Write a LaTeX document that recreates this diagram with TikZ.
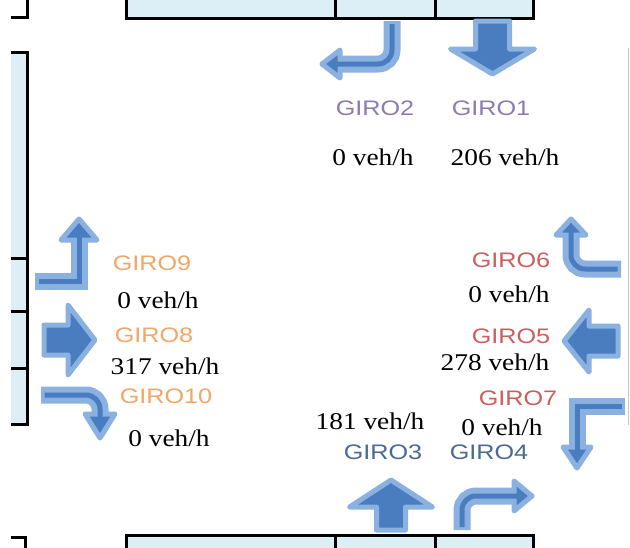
\documentclass[tikz,border=0pt]{standalone}
\usepackage{fontspec}
\newfontfamily\girofont[FakeStretch=1.2]{Liberation Sans}
\newfontfamily\flowfont[FakeStretch=1.14]{Liberation Serif}
\definecolor{alight}{HTML}{8AB1E0}
\definecolor{adark}{HTML}{4A7DC0}
\definecolor{roadfill}{HTML}{DDEFF6}
\definecolor{cpurple}{HTML}{8C7BAE}
\definecolor{corange}{HTML}{F2A766}
\definecolor{cred}{HTML}{C95F5F}
\definecolor{cblue}{HTML}{4A6A93}
\tikzset{
  giro/.style={font=\girofont\fontsize{21}{21}\selectfont, inner sep=0pt},
  flow/.style={font=\flowfont\fontsize{24}{24}\selectfont, text=black, inner sep=0pt},
  arrowbody/.style={fill=adark, draw=alight, line width=5pt, line join=round},
  shaftlight/.style={draw=alight, line width=17pt},
  shaftdark/.style={draw=adark, line width=5pt},
  road/.style={draw=black, line width=3pt},
}
\begin{document}
\begin{tikzpicture}[x=1pt,y=-1pt]
\useasboundingbox (0,0) rectangle (630,547);
\clip (0,0) rectangle (630,547);
\fill[white] (0,0) rectangle (630,547);

% road boxes
\fill[roadfill] (126,-5) rectangle (533,18);
\draw[road] (126,-5) -- (126,18) -- (533,18) -- (533,-5);
\draw[road] (335,-5) -- (335,18);
\draw[road] (435,-5) -- (435,18);

\fill[roadfill] (126,535) rectangle (533,555);
\draw[road] (126,555) -- (126,535) -- (533,535) -- (533,555);
\draw[road] (335,535) -- (335,555);
\draw[road] (435,535) -- (435,555);

\fill[roadfill] (11,52) rectangle (27,424);
\draw[road] (11,52) -- (27,52) -- (27,424) -- (11,424);
\draw[road] (11,258) -- (27,258);
\draw[road] (11,311) -- (27,311);
\draw[road] (11,368) -- (27,368);

\draw[road] (11,17) -- (27,17) -- (27,-5);
\draw[road] (11,537) -- (25,537) -- (25,555);

\draw[black!22, line width=1pt] (628,48) -- (628,425);

% straight arrows
\draw[arrowbody] (475.5,21) -- (509.5,21) -- (509.5,49) -- (534.5,49) -- (492.5,74) -- (450.5,49) -- (475.5,49) -- cycle;
\draw[arrowbody] (44,325) -- (68,325) -- (68,305) -- (95,340) -- (68,375) -- (68,355) -- (44,355) -- cycle;
\draw[arrowbody] (618,326) -- (589,326) -- (589,310) -- (564,341) -- (589,372) -- (589,356) -- (618,356) -- cycle;
\draw[arrowbody] (376.5,530) -- (376.5,507) -- (349.5,507) -- (391,480) -- (432.5,507) -- (405.5,507) -- (405.5,530) -- cycle;

% GIRO2 bent arrow
\draw[shaftlight, rounded corners=14pt] (392,21) -- (392,64) -- (341,64);
\draw[arrowbody] (340,50) -- (322,64) -- (340,78) -- cycle;
\draw[shaftdark, rounded corners=14pt] (392,24) -- (392,64) -- (333,64);

% GIRO9 bent arrow
\draw[shaftlight, line join=miter] (35,281) -- (79,281) -- (79,241);
\draw[arrowbody] (61,240) -- (79,219) -- (97,240) -- cycle;
\draw[shaftdark, line join=miter] (38.5,281) -- (79,281) -- (79,234);

% GIRO10 bent arrow
\draw[shaftlight, rounded corners=14pt] (41,395) -- (100,395) -- (100,415);
\draw[arrowbody] (85,414) -- (100,438) -- (115,414) -- cycle;
\draw[shaftdark, rounded corners=14pt] (44.5,395) -- (100,395) -- (100,420);

% GIRO6 bent arrow
\draw[shaftlight, rounded corners=14pt] (621,269) -- (571,269) -- (571,236);
\draw[arrowbody] (556,235) -- (571,219) -- (586,235) -- cycle;
\draw[shaftdark, rounded corners=14pt] (617.5,269) -- (571,269) -- (571,229);

% GIRO7 bent arrow
\draw[shaftlight, line join=miter] (625,406) -- (577,406) -- (577,446);
\draw[arrowbody] (563,447) -- (577,468) -- (591,447) -- cycle;
\draw[shaftdark, line join=miter] (621.5,406) -- (577,406) -- (577,453);

% GIRO4 bent arrow
\draw[shaftlight, rounded corners=14pt] (462,530) -- (462,496) -- (515,496);
\draw[arrowbody] (514,481) -- (532,496) -- (514,511) -- cycle;
\draw[shaftdark, rounded corners=14pt] (462,527) -- (462,496) -- (520,496);

% labels
\node[giro, text=cpurple] (g2) at (375,108) {GIRO2};
\node[giro, text=cpurple] (g1) at (491,108) {GIRO1};
\node[flow] (f2) at (373,157) {0 veh/h};
\node[flow] (f1) at (505,157) {206 veh/h};

\node[giro, text=corange] (g9) at (152,263) {GIRO9};
\node[flow] (f9) at (158,300) {0 veh/h};
\node[giro, text=corange] (g8) at (154,335) {GIRO8};
\node[flow] (f8) at (165,366) {317 veh/h};
\node[giro, text=corange] (g10) at (166,396) {GIRO10};
\node[flow] (f10) at (169,438) {0 veh/h};

\node[giro, text=cred] (g6) at (511,260) {GIRO6};
\node[flow] (f6) at (509,294) {0 veh/h};
\node[giro, text=cred] (g5) at (511,336) {GIRO5};
\node[flow] (f5) at (495,362) {278 veh/h};
\node[giro, text=cred] (g7) at (518,398) {GIRO7};
\node[flow] (f7) at (502,427) {0 veh/h};

\node[flow] (f3) at (370,421) {181 veh/h};
\node[giro, text=cblue] (g3) at (383,452) {GIRO3};
\node[giro, text=cblue] (g4) at (489,452) {GIRO4};
\end{tikzpicture}
\end{document}
